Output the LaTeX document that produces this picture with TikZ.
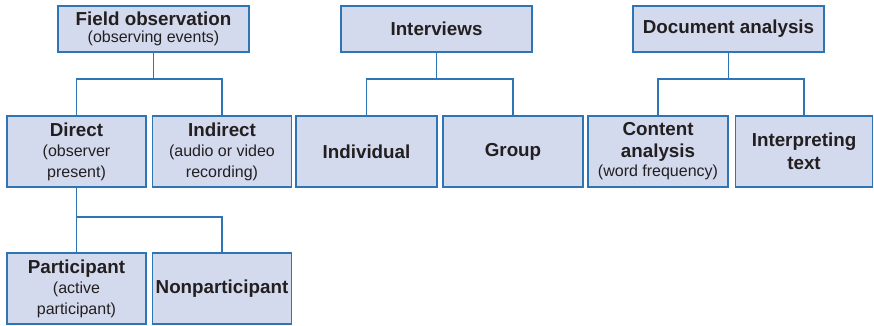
\documentclass[tikz,border=0pt]{standalone}
\usepackage{fontspec}
\setmainfont{Liberation Sans}
\definecolor{boxblue}{HTML}{2F74B5}
\definecolor{boxfill}{HTML}{D4DAEE}
\definecolor{textgray}{HTML}{231F20}
\newcommand{\hd}[1]{{\fontsize{18.8}{21}\selectfont\bfseries #1}}
\newcommand{\sm}[1]{{\fontsize{16}{20}\selectfont #1}}

\begin{document}
\begin{tikzpicture}[x=1pt, y=-1pt,
    box/.style={draw=boxblue, fill=boxfill, line width=1.3pt, inner sep=0pt,
      text=textgray, align=center, minimum height=71pt, minimum width=139pt,
      font=\fontsize{16}{20.5}\selectfont},
    topbox/.style={box, minimum height=46pt, minimum width=191pt},
    link/.style={draw=boxblue, line width=1.3pt}]
        \useasboundingbox (0,0) rectangle (874,326);
        % Top row
        \node[topbox] (field) at (153.5,29) {\hd{Field observation}\\[-4pt]\sm{(observing events)}};
        \node[topbox] (interviews) at (436.5,29) {\hd{Interviews}};
        \node[topbox] (docs) at (728.5,29) {\hd{Document analysis}};
        % Second row
        \node[box] (direct) at (76.5,151.5) {\hd{Direct}\\\sm{(observer}\\\sm{present)}};
        \node[box] (indirect) at (222,151.5) {\hd{Indirect}\\\sm{(audio or video}\\\sm{recording)}};
        \node[box, minimum width=141pt] (individual) at (366.5,151.5) {\hd{Individual}};
        \node[box, minimum width=140pt] (group) at (513,151.5) {\hd{Group}};
        \node[box, minimum width=140pt] (content) at (658,151.5) {\hd{Content}\\[1pt]\hd{analysis}\\[-1pt]\sm{(word frequency)}};
        \node[box, minimum width=137pt] (interp) at (804,151.5) {\hd{Interpreting}\\[2pt]\hd{text}};
        % Third row
        \node[box] (participant) at (76.5,288.5) {\hd{Participant}\\\sm{(active}\\\sm{participant)}};
        \node[box] (nonpart) at (222,288.5) {\hd{Nonparticipant}};
        % Junctions
        \coordinate (fj) at (153.5,79);
        \coordinate (ij) at (436.5,79);
        \coordinate (dj) at (728.5,79);
        \coordinate (pj) at (76.5,217);
        % Connectors
        \draw[link] (field.south) -- (fj);
        \draw[link] (fj) -| (direct.north);
        \draw[link] (fj) -| (indirect.north);
        \draw[link] (interviews.south) -- (ij);
        \draw[link] (ij) -| (individual.north);
        \draw[link] (ij) -| (group.north);
        \draw[link] (docs.south) -- (dj);
        \draw[link] (dj) -| (content.north);
        \draw[link] (dj) -| (interp.north);
        \draw[link] (direct.south) -- (pj);
        \draw[link] (pj) -- (participant.north);
        \draw[link] (pj) -| (nonpart.north);
      \end{tikzpicture}
\end{document}
